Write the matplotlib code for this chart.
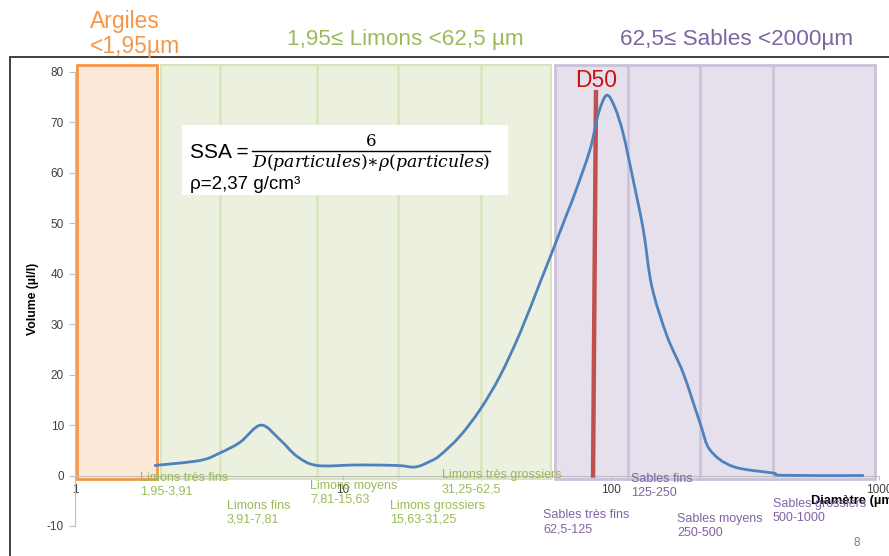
import matplotlib
matplotlib.use("Agg")
import numpy as np
import matplotlib.pyplot as plt
from matplotlib.patches import Rectangle, PathPatch
from matplotlib.path import Path
from matplotlib.lines import Line2D
from matplotlib.ticker import FixedLocator, NullLocator, FixedFormatter

# ---------------- data ----------------
diam = [1.99, 2.93, 3.48, 4.13, 4.94, 5.82, 6.74, 8.0, 11.3, 15.9, 18.6, 21.1,
        23.0, 27.3, 32.5, 38.5, 45.8, 54.3, 60.8, 68.6, 73.4, 83.5, 89.8, 96.4,
        103.5, 111, 121, 132, 142, 162, 186, 215, 234, 285, 402, 438, 871]
volume = [2.0, 3.0, 4.5, 6.6, 10.0, 7.1, 3.8, 2.0, 2.1, 2.0, 1.7, 2.8,
          4.0, 7.8, 13.1, 19.7, 28.3, 38.2, 44.8, 52.0, 56.0, 64.6, 71.8, 75.4,
          72.9, 67.8, 58.6, 48.7, 37.5, 27.6, 20.3, 10.4, 5.1, 1.8, 0.5, 0.05, 0.0]

d50_bottom = [85.7, 0.0]
d50_top = [87.9, 76.0]

# class boundaries as drawn on the reference
argiles_span = [1.02, 2.02]
limons_span = [2.09, 59.7]
sables_span = [61.8, 966]
limons_lines = [3.48, 8.0, 16.0, 32.6]
sables_lines = [116, 215, 401]

x_ticks = [1, 10, 100, 1000]
x_ticklabels = ["1", "10", "100", "1000"]
y_ticks = [-10, 0, 10, 20, 30, 40, 50, 60, 70, 80]

limons_labels = ["Limons très fins\n1,95-3,91", "Limons fins\n3,91-7,81",
                 "Limons moyens\n7,81-15,63", "Limons grossiers\n15,63-31,25",
                 "Limons très grossiers\n31,25-62,5"]
sables_labels = ["Sables très fins\n62,5-125", "Sables fins\n125-250",
                 "Sables moyens\n250-500", "Sables grossiers\n500-1000"]

# ---------------- style ----------------
FONT = "Liberation Sans"
plt.rcParams['font.family'] = [FONT, 'DejaVu Sans']
plt.rcParams['axes.unicode_minus'] = False

ORANGE = "#F79646"
GREEN = "#9BBB59"
PURPLE = "#8064A2"
W, H = 889, 556


def fx(px):
    return px / W


def fy(py):
    return 1 - py / H


def smooth_path(xs, ys):
    """Excel-like smoothed line: Catmull-Rom segments drawn as cubic Beziers
    in (log10 x, y) space."""
    lx = np.log10(np.asarray(xs, float))
    yy = np.asarray(ys, float)
    n = len(lx)
    verts = [(xs[0], ys[0])]
    codes = [Path.MOVETO]
    for i in range(n - 1):
        i0 = max(i - 1, 0)
        i3 = min(i + 2, n - 1)
        c1 = (lx[i] + (lx[i + 1] - lx[i0]) / 6, yy[i] + (yy[i + 1] - yy[i0]) / 6)
        c2 = (lx[i + 1] - (lx[i3] - lx[i]) / 6, yy[i + 1] - (yy[i3] - yy[i]) / 6)
        verts += [(10 ** c1[0], c1[1]), (10 ** c2[0], c2[1]), (xs[i + 1], ys[i + 1])]
        codes += [Path.CURVE4] * 3
    return Path(verts, codes)


fig = plt.figure(figsize=(W / 100, H / 100), dpi=100)
fig.patch.set_facecolor("white")

# outer black frame
fig.patches.append(Rectangle((fx(10), fy(600)), 2.0, fy(57) - fy(600),
                             transform=fig.transFigure, fill=False,
                             edgecolor="#303030", linewidth=1.3, zorder=0))

ax = fig.add_axes([fx(75), fy(526), (879 - 75) / W, (526 - 72) / H])
ax.set_facecolor("none")
ax.set_xscale("log")
ax.set_xlim(1, 1000)
ax.set_ylim(-10, 80)

# shaded regions
ytop, ybot = 81.4, -0.6
ax.add_patch(Rectangle((argiles_span[0], ybot), argiles_span[1] - argiles_span[0],
                       ytop - ybot, facecolor="#FDE9D9", edgecolor=ORANGE,
                       linewidth=2, zorder=1, clip_on=False))
ax.add_patch(Rectangle((limons_span[0], ybot), limons_span[1] - limons_span[0],
                       ytop - ybot, facecolor="#EBF1DE", edgecolor="#D7E4BD",
                       linewidth=1.5, zorder=1, clip_on=False))
ax.add_patch(Rectangle((sables_span[0], ybot), sables_span[1] - sables_span[0],
                       ytop - ybot, facecolor="#E5E0EC", edgecolor="#CCC1DA",
                       linewidth=2, zorder=1, clip_on=False))
for xv in limons_lines:
    ax.plot([xv, xv], [ybot, ytop], color="#D7E4BD", lw=1.8, zorder=1.5,
            clip_on=False)
for xv in sables_lines:
    ax.plot([xv, xv], [ybot, ytop], color="#CCC1DA", lw=1.8, zorder=1.5,
            clip_on=False)

# curve (smoothed line through the read points)
ax.add_patch(PathPatch(smooth_path(diam, volume), facecolor="none",
                       edgecolor="#4F81BD", lw=2.0, zorder=4,
                       capstyle="round", joinstyle="round"))

# D50 line
ax.plot([d50_bottom[0], d50_top[0]], [d50_bottom[1], d50_top[1]],
        color="#C0504D", lw=3.2, zorder=3)
ax.text(d50_top[0], 78.3, "D50", color="#CC1111", fontsize=16.5,
        ha="center", va="center", zorder=5)

# axes styling
for s in ["top", "right"]:
    ax.spines[s].set_visible(False)
ax.spines["left"].set_color("#BFBFBF")
ax.spines["bottom"].set_color("#BFBFBF")
ax.spines["bottom"].set_position(("data", 0))
ax.spines["left"].set_zorder(2)
ax.spines["bottom"].set_zorder(2)

ax.xaxis.set_major_locator(FixedLocator(x_ticks))
ax.xaxis.set_major_formatter(FixedFormatter(x_ticklabels))
ax.xaxis.set_minor_locator(NullLocator())
ax.set_yticks(y_ticks)
ax.tick_params(axis="x", length=3, width=0.8, color="#BFBFBF", pad=3,
               labelsize=8.5, labelcolor="#404040")
ax.tick_params(axis="y", length=4.5, width=0.8, color="#BFBFBF", pad=3.5,
               labelsize=8.5, labelcolor="#404040")

fig.text(fx(33), fy(299), "Volume (µl/l)", rotation=90, fontsize=8.8,
         fontweight="bold", ha="center", va="center", color="#000000")
fig.text(fx(811), fy(504), "Diamètre (µm)", fontsize=9.3, fontweight="bold",
         ha="left", va="baseline", color="#000000")

# header texts
fig.text(fx(90), fy(28), "Argiles", color=ORANGE, fontsize=16.5,
         ha="left", va="baseline")
fig.text(fx(90), fy(53), "<1,95µm", color=ORANGE, fontsize=16.5,
         ha="left", va="baseline")
fig.text(fx(287), fy(45), "1,95≤ Limons <62,5 µm", color=GREEN, fontsize=16.2,
         ha="left", va="baseline")
fig.text(fx(620), fy(45), "62,5≤ Sables <2000µm", color=PURPLE, fontsize=16.2,
         ha="left", va="baseline")

# class labels below the axis
limons_pos = [(140, 495), (227, 523), (310, 503), (390, 523), (442, 492)]
sables_pos = [(543, 532), (631, 496), (677, 536), (773, 521)]
for lab, (px, py) in zip(limons_labels, limons_pos):
    fig.text(fx(px), fy(py), lab, color=GREEN, fontsize=9, ha="left",
             va="baseline", linespacing=1.25)
for lab, (px, py) in zip(sables_labels, sables_pos):
    fig.text(fx(px), fy(py), lab, color=PURPLE, fontsize=9, ha="left",
             va="baseline", linespacing=1.25)

fig.text(fx(857), fy(546), "8", color="#808080", fontsize=8.5, ha="center",
         va="baseline")

# formula box
fig.patches.append(Rectangle((fx(182), fy(195)), (508 - 182) / W,
                             (195 - 125) / H, transform=fig.transFigure,
                             facecolor="white", edgecolor="none", zorder=6))
fig.text(fx(190), fy(158), "SSA =", fontsize=15, ha="left", va="baseline",
         color="black", zorder=7)
fig.text(fx(371), fy(146), "$6$", fontsize=12, ha="center", va="baseline",
         math_fontfamily="dejavuserif", color="black", zorder=7)
fig.add_artist(Line2D([fx(252), fx(490)], [fy(151), fy(151)],
                      transform=fig.transFigure, color="black", lw=1.0,
                      zorder=7))
fig.text(fx(371), fy(167), r"$D(particules){\ast}\rho(particules)$",
         fontsize=12.4, ha="center", va="baseline",
         math_fontfamily="dejavuserif", color="black", zorder=7)
fig.text(fx(190), fy(189), "ρ=2,37 g/cm³", fontsize=13.5, ha="left",
         va="baseline", color="black", zorder=7)

fig.savefig("out.png", dpi=100, facecolor="white")
